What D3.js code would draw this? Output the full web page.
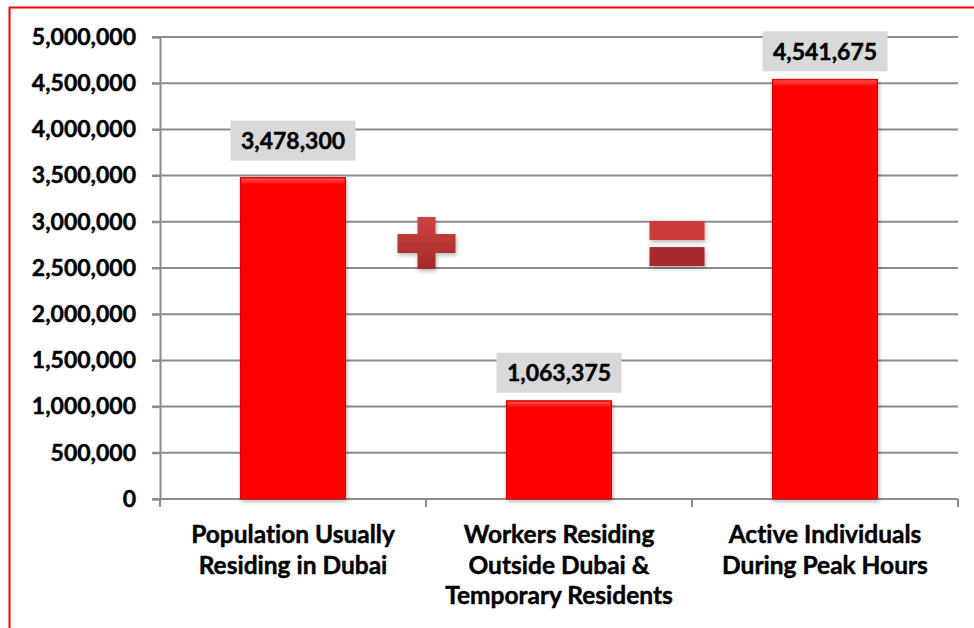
<!DOCTYPE html>
<html>
<head>
<meta charset="utf-8">
<script src="https://cdn.jsdelivr.net/npm/d3@7"></script>
<style>
  body { margin: 0; background: #fff; }
  svg text { font-family: Lato, "Open Sans", sans-serif; font-weight: 700; fill: #000;
             stroke: #000; stroke-width: 0.45px; font-variant-ligatures: none; }
</style>
</head>
<body>
<div id="chart"></div>
<script>
// chart data
var categories = ["Population Usually|Residing in Dubai",
                  "Workers Residing|Outside Dubai &|Temporary Residents",
                  "Active Individuals|During Peak Hours"];
var values = [3478300, 1063375, 4541675];
var yTicks = [0, 500000, 1000000, 1500000, 2000000, 2500000, 3000000, 3500000, 4000000, 4500000, 5000000];

var w = 974, h = 628;
var plotLeft = 160, plotRight = 958, plotTop = 37, plotBottom = 499;
// how far each value box sits above its bar (first one was nudged up in the original)
var labelLift = [17, 8, 8];

var svg = d3.select("#chart").append("svg")
    .attr("width", w)
    .attr("height", h);

var defs = svg.append("defs");

// soft shadow for bars and signs
var shadow = defs.append("filter").attr("id", "shadow")
    .attr("x", "-20%").attr("y", "-20%").attr("width", "140%").attr("height", "140%");
shadow.append("feDropShadow")
    .attr("dx", 1).attr("dy", 2).attr("stdDeviation", 2)
    .attr("flood-color", "#000").attr("flood-opacity", 0.3);

var signGrad = defs.append("linearGradient").attr("id", "signGrad")
    .attr("x1", 0).attr("y1", 0).attr("x2", 0).attr("y2", 1);
signGrad.append("stop").attr("offset", "0%").attr("stop-color", "#cf4242");
signGrad.append("stop").attr("offset", "100%").attr("stop-color", "#a42a2a");

var bevel = defs.append("linearGradient").attr("id", "bevel")
    .attr("x1", 0).attr("y1", 0).attr("x2", 0).attr("y2", 1);
bevel.append("stop").attr("offset", "0%").attr("stop-color", "#ff5050");
bevel.append("stop").attr("offset", "100%").attr("stop-color", "#ff0000");

// red frame (runs off the right/bottom edge like the original)
svg.append("rect")
    .attr("x", 9.5).attr("y", 7.5)
    .attr("width", 1000).attr("height", 700)
    .attr("fill", "none")
    .attr("stroke", "#ff0000")
    .attr("stroke-width", 2);

var x = d3.scaleBand()
    .domain(categories)
    .range([plotLeft, plotRight])
    .paddingInner(0.605)
    .paddingOuter(0.3025);

var y = d3.scaleLinear()
    .domain([0, 5000000])
    .range([plotBottom, plotTop]);

// gridlines
svg.append("g")
    .selectAll("line")
    .data(yTicks)
    .enter()
    .append("line")
    .attr("x1", plotLeft - 8)
    .attr("x2", plotRight)
    .attr("y1", function(d) { return y(d); })
    .attr("y2", function(d) { return y(d); })
    .attr("stroke", "#8c8c8c")
    .attr("stroke-width", 2);

// y axis
var yAxis = svg.append("g")
    .attr("transform", "translate(" + plotLeft + ",0)")
    .call(d3.axisLeft(y).tickValues(yTicks).tickFormat(d3.format(",")).tickSize(8).tickPadding(16));
yAxis.select(".domain").attr("stroke", "#8c8c8c").attr("stroke-width", 2);
yAxis.selectAll(".tick line").attr("stroke", "#8c8c8c").attr("stroke-width", 2);
yAxis.selectAll("text").style("font-size", "23px").attr("fill", "#000");

// x axis ticks at category boundaries
var step = x.step();
var bounds = d3.range(categories.length + 1).map(function(i) { return plotLeft + i * step; });
svg.append("g")
    .selectAll("line")
    .data(bounds)
    .enter()
    .append("line")
    .attr("x1", function(d) { return d; })
    .attr("x2", function(d) { return d; })
    .attr("y1", plotBottom)
    .attr("y2", plotBottom + 8)
    .attr("stroke", "#8c8c8c")
    .attr("stroke-width", 2);

// category labels
var catLabels = svg.append("g")
    .selectAll("text")
    .data(categories)
    .enter()
    .append("text")
    .attr("text-anchor", "middle")
    .style("font-size", "24.5px");
catLabels.each(function(d) {
  var t = d3.select(this);
  var cx = x(d) + x.bandwidth() / 2;
  d.split("|").forEach(function(line, i) {
    t.append("tspan").attr("x", cx).attr("y", 543 + i * 30.5).text(line);
  });
});

// bars
var bars = svg.append("g")
    .selectAll("g")
    .data(values)
    .enter()
    .append("g");

bars.append("rect")
    .attr("x", function(d, i) { return x(categories[i]); })
    .attr("y", function(d) { return y(d); })
    .attr("width", x.bandwidth())
    .attr("height", function(d) { return plotBottom - y(d); })
    .attr("fill", "#ff0000")
    .attr("stroke", "#d40000")
    .attr("stroke-width", 1)
    .attr("filter", "url(#shadow)");

// thin bevel highlight at top of bars
bars.append("rect")
    .attr("x", function(d, i) { return x(categories[i]) + 1; })
    .attr("y", function(d) { return y(d) + 1; })
    .attr("width", x.bandwidth() - 2)
    .attr("height", 6)
    .attr("fill", "url(#bevel)");

// value labels with grey boxes
var boxW = 125, boxH = 40;
bars.append("rect")
    .attr("x", function(d, i) { return x(categories[i]) + x.bandwidth() / 2 - boxW / 2; })
    .attr("y", function(d, i) { return y(d) - labelLift[i] - boxH; })
    .attr("width", boxW)
    .attr("height", boxH)
    .attr("fill", "#d9d9d9");

bars.append("text")
    .attr("x", function(d, i) { return x(categories[i]) + x.bandwidth() / 2; })
    .attr("y", function(d, i) { return y(d) - labelLift[i] - boxH / 2; })
    .attr("dy", "0.36em")
    .attr("text-anchor", "middle")
    .style("font-size", "23px")
    .text(function(d) { return d3.format(",")(d); });

// plus sign between first and second bar
var px = bounds[1] + 0.5, py = y(2770000);
var plus = svg.append("g").attr("filter", "url(#shadow)");
plus.append("path")
    .attr("d", "M" + (px - 9) + "," + (py - 26) +
               "h18v17h20v19h-20v16h-18v-16h-20v-19h20z")
    .attr("fill", "url(#signGrad)");

// equals sign between second and third bar
var ex = bounds[2] - 15, ey = y(2770000);
var eq = svg.append("g").attr("filter", "url(#shadow)");
eq.append("rect")
    .attr("x", ex - 27.5).attr("y", ey - 22)
    .attr("width", 55).attr("height", 19)
    .attr("fill", "#cc3b3b");
eq.append("rect")
    .attr("x", ex - 27.5).attr("y", ey + 4)
    .attr("width", 55).attr("height", 19)
    .attr("fill", "#a82b2b");
</script>
</body>
</html>
